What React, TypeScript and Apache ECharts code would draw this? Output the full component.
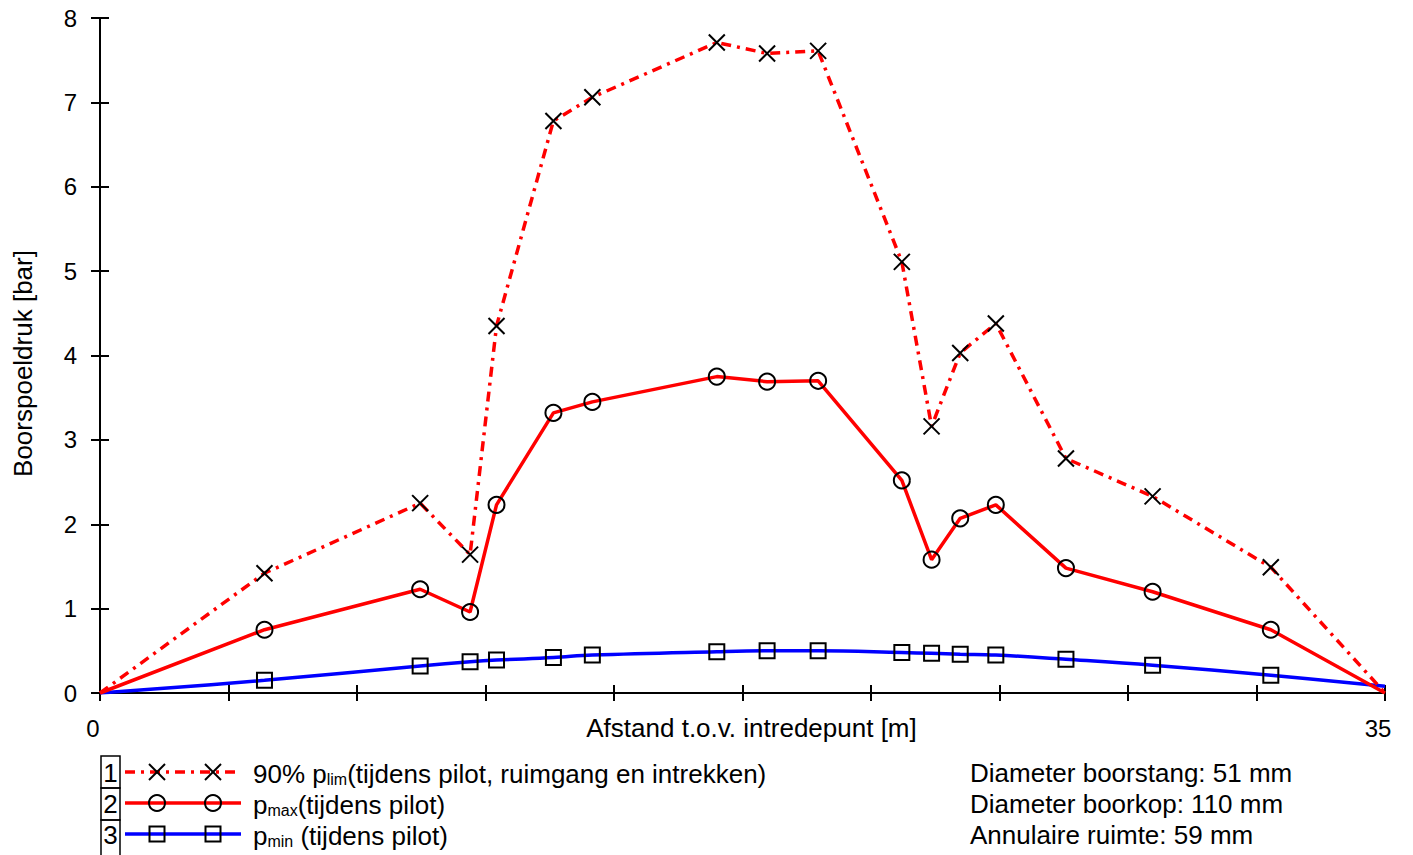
import React, { useEffect, useRef } from "react";
import * as echarts from "echarts";

// Distance along the bore (m)
const distances = [0, 4.48, 8.72, 10.08, 10.8, 12.35, 13.41, 16.8, 18.17, 19.56, 21.84, 22.65, 23.43, 24.4, 26.31, 28.67, 31.89, 35];
// 90% p_lim (tijdens pilot, ruimgang en intrekken) [bar]
const plim90 = [0, 1.42, 2.25, 1.64, 4.35, 6.78, 7.06, 7.71, 7.58, 7.61, 5.11, 3.16, 4.03, 4.38, 2.78, 2.33, 1.49, 0];
// p_max (tijdens pilot) [bar]
const pmax = [0, 0.75, 1.23, 0.96, 2.23, 3.32, 3.45, 3.75, 3.69, 3.7, 2.52, 1.58, 2.07, 2.23, 1.48, 1.2, 0.75, 0];
// p_min (tijdens pilot) [bar]
const pmin = [0, 0.15, 0.32, 0.37, 0.39, 0.42, 0.45, 0.49, 0.5, 0.5, 0.48, 0.47, 0.46, 0.45, 0.4, 0.33, 0.21, 0.08];

const xAxisName = "Afstand t.o.v. intredepunt [m]";
const yAxisName = "Boorspoeldruk [bar]";
const xLabelsShown = [0, 35];

const legendNumbers = ["1", "2", "3"];
const legendTexts = [
  "{n|90% p}{s|lim}{n|(tijdens pilot, ruimgang en intrekken)}",
  "{n|p}{s|max}{n|(tijdens pilot)}",
  "{n|p}{s|min}{n| (tijdens pilot)}",
];
const infoTexts = [
  "Diameter boorstang: 51 mm",
  "Diameter boorkop: 110 mm",
  "Annulaire ruimte: 59 mm",
];

const FONT = "'Liberation Sans', Arial, Helvetica, sans-serif";
const RED = "#ff0000";
const BLUE = "#0000ff";
const XPATH = "path://M0,0L10,10M10,0L0,10";
const BIG = 26;

function buildData(values: number[], symbol: string) {
  const last = values.length - 1;
  return distances.map((d, i) => ({
    value: [d, values[i]],
    symbol: i === 0 || i === last ? "none" : symbol,
  }));
}

const markerStyle = {
  color: "rgba(0,0,0,0)",
  borderColor: "#000",
  borderWidth: 2,
};

export default function App() {
  const ref = useRef<HTMLDivElement>(null);

  useEffect(() => {
    if (!ref.current) return;
    const chart = echarts.init(ref.current, undefined, { renderer: "svg" });

    const rowY = [773, 804, 835];
    const graphics: any[] = [];

    // legend number boxes
    const boxEdges = [756, 788, 820, 858];
    legendNumbers.forEach((num, i) => {
      graphics.push({
        type: "rect",
        shape: { x: 101, y: boxEdges[i], width: 19, height: boxEdges[i + 1] - boxEdges[i] },
        style: { fill: "none", stroke: "#000", lineWidth: 1.5 },
      });
      graphics.push({
        type: "text",
        style: {
          text: num,
          x: 110.5,
          y: rowY[i],
          align: "center",
          verticalAlign: "middle",
          fontSize: BIG,
          fontFamily: FONT,
          fill: "#000",
        },
      });
    });

    // legend line samples
    const lineStyles = [
      { stroke: RED, lineWidth: 3.5, lineDash: [10, 6, 3, 6] },
      { stroke: RED, lineWidth: 3.5 },
      { stroke: BLUE, lineWidth: 3.5 },
    ];
    lineStyles.forEach((ls, i) => {
      graphics.push({
        type: "line",
        shape: { x1: 125, y1: rowY[i] - 1, x2: 241, y2: rowY[i] - 1 },
        style: ls,
      });
      [157, 213].forEach((cx) => {
        const cy = rowY[i] - 1;
        if (i === 0) {
          graphics.push({
            type: "line",
            shape: { x1: cx - 8, y1: cy - 8, x2: cx + 8, y2: cy + 8 },
            style: { stroke: "#000", lineWidth: 2 },
          });
          graphics.push({
            type: "line",
            shape: { x1: cx + 8, y1: cy - 8, x2: cx - 8, y2: cy + 8 },
            style: { stroke: "#000", lineWidth: 2 },
          });
        } else if (i === 1) {
          graphics.push({
            type: "circle",
            shape: { cx, cy, r: 8 },
            style: { fill: "none", stroke: "#000", lineWidth: 2 },
          });
        } else {
          graphics.push({
            type: "rect",
            shape: { x: cx - 7.5, y: cy - 7.5, width: 15, height: 15 },
            style: { fill: "none", stroke: "#000", lineWidth: 2 },
          });
        }
      });
      graphics.push({
        type: "text",
        style: {
          text: legendTexts[i],
          x: 253,
          y: rowY[i],
          verticalAlign: "middle",
          fontFamily: FONT,
          fill: "#000",
          rich: {
            n: { fontSize: BIG, fontFamily: FONT, verticalAlign: "bottom", lineHeight: 28 },
            s: { fontSize: 16, fontFamily: FONT, verticalAlign: "bottom", lineHeight: 12 },
          },
        },
      });
    });

    infoTexts.forEach((t, i) => {
      graphics.push({
        type: "text",
        style: {
          text: t,
          x: 970,
          y: rowY[i],
          verticalAlign: "middle",
          fontSize: BIG,
          fontFamily: FONT,
          fill: "#000",
        },
      });
    });

    const axisLineStyle = { color: "#000", width: 2 };

    chart.setOption({
      animation: false,
      backgroundColor: "#fff",
      textStyle: { fontFamily: FONT },
      grid: { left: 100, right: 28, top: 18, bottom: 162, containLabel: false },
      xAxis: [
        {
          type: "value",
          min: 0,
          max: 35,
          interval: 3.5,
          name: xAxisName,
          nameLocation: "middle",
          nameGap: 22,
          nameMoveOverlap: false,
          nameTextStyle: {
            fontSize: BIG,
            color: "#000",
            fontFamily: FONT,
            verticalAlign: "top",
            padding: [0, 0, 0, 18],
          },
          axisLine: { show: true, onZero: false, lineStyle: axisLineStyle },
          axisTick: { show: true, length: 8, lineStyle: axisLineStyle },
          axisLabel: {
            fontSize: 24,
            color: "#000",
            margin: 23,
            fontFamily: FONT,
            padding: [0, 14, 0, 0],
            showMinLabel: true,
            showMaxLabel: true,
            formatter: (v: number) => (xLabelsShown.some((s) => Math.abs(s - v) < 1e-6) ? String(v) : ""),
          },
          splitLine: { show: false },
        },
        {
          type: "value",
          min: 0,
          max: 35,
          interval: 3.5,
          position: "bottom",
          axisLine: { show: false },
          axisTick: { show: true, inside: true, length: 8, lineStyle: axisLineStyle },
          axisLabel: { show: false },
          splitLine: { show: false },
        },
      ],
      yAxis: [
        {
          type: "value",
          min: 0,
          max: 8,
          interval: 1,
          name: yAxisName,
          nameLocation: "middle",
          nameGap: 64,
          nameMoveOverlap: false,
          nameTextStyle: { fontSize: BIG, color: "#000", fontFamily: FONT, padding: [0, 16, 0, 0] },
          axisLine: { show: true, onZero: false, lineStyle: axisLineStyle },
          axisTick: { show: true, length: 9, lineStyle: axisLineStyle },
          axisLabel: { fontSize: 24, color: "#000", margin: 23, fontFamily: FONT },
          splitLine: { show: false },
        },
        {
          type: "value",
          min: 0,
          max: 8,
          interval: 1,
          position: "left",
          offset: 0,
          axisLine: { show: false },
          axisTick: { show: true, inside: true, length: 9, lineStyle: axisLineStyle },
          axisLabel: { show: false },
          splitLine: { show: false },
        },
      ],
      series: [
        {
          name: "pmin",
          type: "line",
          smooth: 0.4,
          data: buildData(pmin, "rect"),
          symbolSize: 15,
          lineStyle: { color: BLUE, width: 3.5 },
          itemStyle: markerStyle,
          z: 2,
        },
        {
          name: "pmax",
          type: "line",
          data: buildData(pmax, "circle"),
          symbolSize: 16,
          lineStyle: { color: RED, width: 3.5 },
          itemStyle: markerStyle,
          z: 3,
        },
        {
          name: "plim90",
          type: "line",
          data: buildData(plim90, XPATH),
          symbolSize: 16,
          lineStyle: { color: RED, width: 3.5, type: [10, 6, 3, 6] },
          itemStyle: markerStyle,
          z: 4,
        },
      ],
      graphic: graphics,
    });

    return () => chart.dispose();
  }, []);

  return (
    <div
      ref={ref}
      style={{ position: "fixed", left: 0, top: 0, width: 1413, height: 855, background: "#fff" }}
    />
  );
}
